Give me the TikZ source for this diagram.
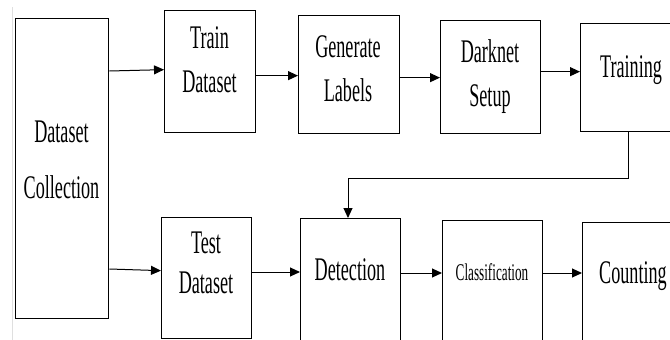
\documentclass[tikz,border=0pt]{standalone}
\usepackage{fontspec}
\newfontfamily\cond[FakeStretch=0.55]{Liberation Serif}
\usetikzlibrary{arrows.meta}
\begin{document}
\begin{tikzpicture}[x=1pt,y=-1pt,
  box/.style={draw=black, line width=1.3pt, inner sep=0pt, anchor=north west},
  lbl/.style={align=center, inner sep=0pt, font=\cond\fontsize{33}{44}\selectfont},
  arr/.style={draw=black, line width=1pt, -{Triangle[length=10pt,width=9pt]}}]
\useasboundingbox (0,0) rectangle (670,340);
\fill[white] (0,0) rectangle (670,340);
\draw[gray!25, line width=1.5pt] (12.5,7) -- (12.5,340);
% boxes
\node[box, minimum width=93, minimum height=300] (coll) at (15,18) {};
\node[box, minimum width=91, minimum height=122] (train) at (164,10) {};
\node[box, minimum width=101, minimum height=118] (gen) at (298,15) {};
\node[box, minimum width=100, minimum height=113] (dark) at (440,20) {};
\node[box, minimum width=120, minimum height=108] (trn) at (580,23) {};
\node[box, minimum width=90, minimum height=121] (test) at (161,217) {};
\node[box, minimum width=100, minimum height=142] (det) at (300,218) {};
\node[box, minimum width=100, minimum height=140] (cls) at (442,220) {};
\node[box, minimum width=118, minimum height=138] (cnt) at (582,222) {};
% labels
\node[lbl, font=\cond\fontsize{33}{56}\selectfont] (collT) at (61.5,160) {Dataset\\Collection};
\node[lbl] (trainT) at (209.5,60) {Train\\Dataset};
\node[lbl] (genT) at (348,68.5) {Generate\\Labels};
\node[lbl] (darkT) at (490,77) {Darknet\\Setup};
\node[lbl] (trnT) at (631,70.5) {Training};
\node[lbl, font=\cond\fontsize{33}{40}\selectfont] (testT) at (206,263) {Test\\Dataset};
\node[lbl] (detT) at (350,270) {Detection};
\node[lbl, font=\cond\fontsize{24}{30}\selectfont] (clsT) at (492,272) {Classification};
\node[lbl] (cntT) at (633,276.5) {Counting};
% arrow start points (yshift is in page direction: negative = down)
\coordinate (a1) at ([yshift=-53]coll.north east);
\coordinate (a2) at ([yshift=-4]train.east);
\coordinate (a3) at ([yshift=-3]gen.east);
\coordinate (a4) at ([yshift=5.5]dark.east);
\coordinate (a5) at ([xshift=48]trn.south west);
\coordinate (a6) at ([yshift=-251]coll.north east);
\coordinate (a7) at ([yshift=-55]test.north east);
\coordinate (a8) at ([yshift=-55]det.north east);
\coordinate (a9) at ([yshift=-53]cls.north east);
% arrows
\draw[arr] (a1) -- ([yshift=2]train.west);
\draw[arr] (a2) -- (gen.west |- a2);
\draw[arr] (a3) -- (dark.west |- a3);
\draw[arr] (a4) -- (trn.west |- a4);
\draw[arr] (a5) -- ++(0,46) -| ([xshift=48]det.north west);
\draw[arr] (a6) -- ([yshift=7.5]test.west);
\draw[arr] (a7) -- (det.west |- a7);
\draw[arr] (a8) -- (cls.west |- a8);
\draw[arr] (a9) -- (cnt.west |- a9);
\end{tikzpicture}
\end{document}
